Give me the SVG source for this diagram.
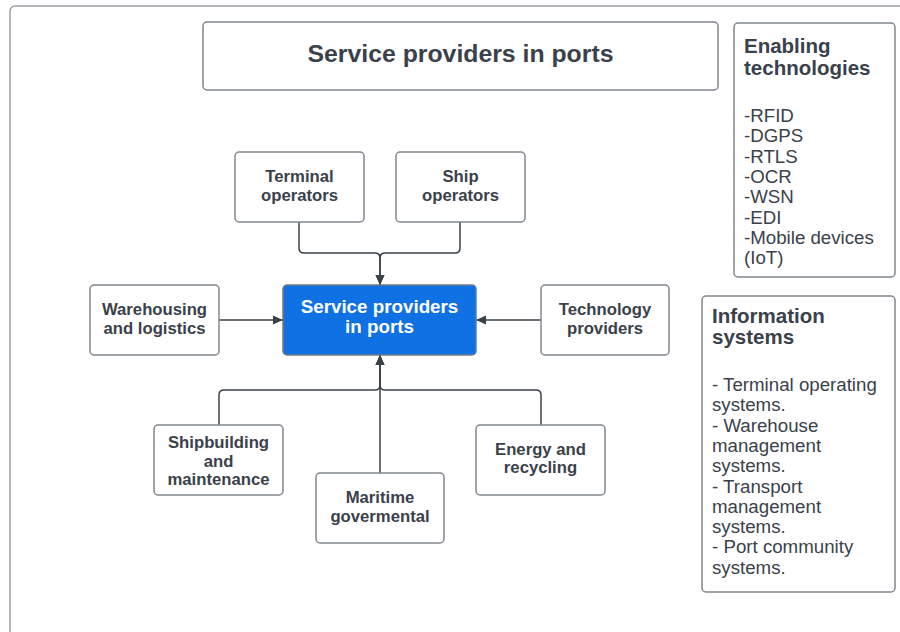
<svg xmlns="http://www.w3.org/2000/svg" width="900" height="632" viewBox="0 0 900 632">
<style>
.box{fill:#ffffff;stroke:#80868e;stroke-width:1.5}
.lbl{font-family:"Liberation Sans",Arial,sans-serif;font-weight:bold;font-size:16.7px;fill:#3a414a;text-anchor:middle}
.hdr{font-family:"Liberation Sans",Arial,sans-serif;font-weight:bold;font-size:20.5px;fill:#3a414a}
.itm{font-family:"Liberation Sans",Arial,sans-serif;font-size:18.7px;fill:#3a414a}
.conn{fill:none;stroke:#3a414a;stroke-width:1.5}
</style>
<defs>
<marker id="arr" viewBox="0 0 10 10" refX="10" refY="5" markerWidth="10" markerHeight="10" markerUnits="userSpaceOnUse" orient="auto">
<path d="M0,0.5 L10,5 L0,9.5 Z" fill="#3a414a"/>
</marker>
</defs>
<rect x="0" y="0" width="900" height="632" fill="#ffffff"/>
<rect id="frame" x="10" y="6" width="920" height="700" rx="5" fill="none" stroke="#9ba0a6" stroke-width="1.5"/>

<g id="connectors">
<path class="conn" d="M299 222 V248 Q299 253 304 253 H375 Q380 253 380 258 V285" marker-end="url(#arr)"/>
<path class="conn" d="M460 222 V248 Q460 253 455 253 H385 Q380 253 380 258 V285" marker-end="url(#arr)"/>
<path class="conn" d="M219 320 H283" marker-end="url(#arr)"/>
<path class="conn" d="M541 320 H476" marker-end="url(#arr)"/>
<path class="conn" d="M380 473 V355" marker-end="url(#arr)"/>
<path class="conn" d="M219 425 V395 Q219 390 224 390 H375 Q380 390 380 385 V355" marker-end="url(#arr)"/>
<path class="conn" d="M541 425 V395 Q541 390 536 390 H385 Q380 390 380 385 V355" marker-end="url(#arr)"/>
</g>

<g id="title">
<rect class="box" x="203" y="22" width="515" height="68" rx="4"/>
<text class="lbl" x="460.5" y="62" style="font-size:24.8px">Service providers in ports</text>
</g>

<g id="enabling">
<rect class="box" x="734" y="23" width="161" height="254" rx="4"/>
<text class="hdr" x="744" y="53">Enabling</text>
<text class="hdr" x="744" y="75">technologies</text>
<text class="itm" x="744" y="122">-RFID</text>
<text class="itm" x="744" y="142.3">-DGPS</text>
<text class="itm" x="744" y="162.6">-RTLS</text>
<text class="itm" x="744" y="182.9">-OCR</text>
<text class="itm" x="744" y="203.2">-WSN</text>
<text class="itm" x="744" y="223.5">-EDI</text>
<text class="itm" x="744" y="243.8">-Mobile devices</text>
<text class="itm" x="744" y="264.1">(IoT)</text>
</g>

<g id="infosys">
<rect class="box" x="702" y="296" width="193" height="296" rx="4"/>
<text class="hdr" x="712" y="322.5">Information</text>
<text class="hdr" x="712" y="343.5">systems</text>
<text class="itm" x="712" y="391">- Terminal operating</text>
<text class="itm" x="712" y="411.3">systems.</text>
<text class="itm" x="712" y="431.6">- Warehouse</text>
<text class="itm" x="712" y="451.9">management</text>
<text class="itm" x="712" y="472.2">systems.</text>
<text class="itm" x="712" y="492.5">- Transport</text>
<text class="itm" x="712" y="512.8">management</text>
<text class="itm" x="712" y="533.1">systems.</text>
<text class="itm" x="712" y="553.4">- Port community</text>
<text class="itm" x="712" y="573.7">systems.</text>
</g>

<g id="terminal">
<rect class="box" x="235" y="152" width="129" height="70" rx="4"/>
<text class="lbl" x="299.5" y="182">Terminal</text>
<text class="lbl" x="299.5" y="200.5">operators</text>
</g>

<g id="ship">
<rect class="box" x="396" y="152" width="129" height="70" rx="4"/>
<text class="lbl" x="460.5" y="182">Ship</text>
<text class="lbl" x="460.5" y="200.5">operators</text>
</g>

<g id="central">
<rect x="283" y="285" width="193" height="70" rx="4" fill="#1071e5" stroke="#6f7a88" stroke-width="1.5"/>
<text class="lbl" x="379.5" y="313.3" style="fill:#ffffff;font-size:18.8px">Service providers</text>
<text class="lbl" x="379.5" y="333.3" style="fill:#ffffff;font-size:18.8px">in ports</text>
</g>

<g id="warehousing">
<rect class="box" x="90" y="285" width="129" height="70" rx="4"/>
<text class="lbl" x="154.5" y="315">Warehousing</text>
<text class="lbl" x="154.5" y="333.5">and logistics</text>
</g>

<g id="technology">
<rect class="box" x="541" y="285" width="128" height="70" rx="4"/>
<text class="lbl" x="605" y="315">Technology</text>
<text class="lbl" x="605" y="333.5">providers</text>
</g>

<g id="shipbuilding">
<rect class="box" x="154" y="425" width="129" height="70" rx="4"/>
<text class="lbl" x="218.5" y="448.3">Shipbuilding</text>
<text class="lbl" x="218.5" y="466.7">and</text>
<text class="lbl" x="218.5" y="485">maintenance</text>
</g>

<g id="maritime">
<rect class="box" x="316" y="473" width="128" height="70" rx="4"/>
<text class="lbl" x="380" y="503.3">Maritime</text>
<text class="lbl" x="380" y="521.7">govermental</text>
</g>

<g id="energy">
<rect class="box" x="476" y="425" width="129" height="70" rx="4"/>
<text class="lbl" x="540.5" y="455">Energy and</text>
<text class="lbl" x="540.5" y="473.3">recycling</text>
</g>
</svg>
